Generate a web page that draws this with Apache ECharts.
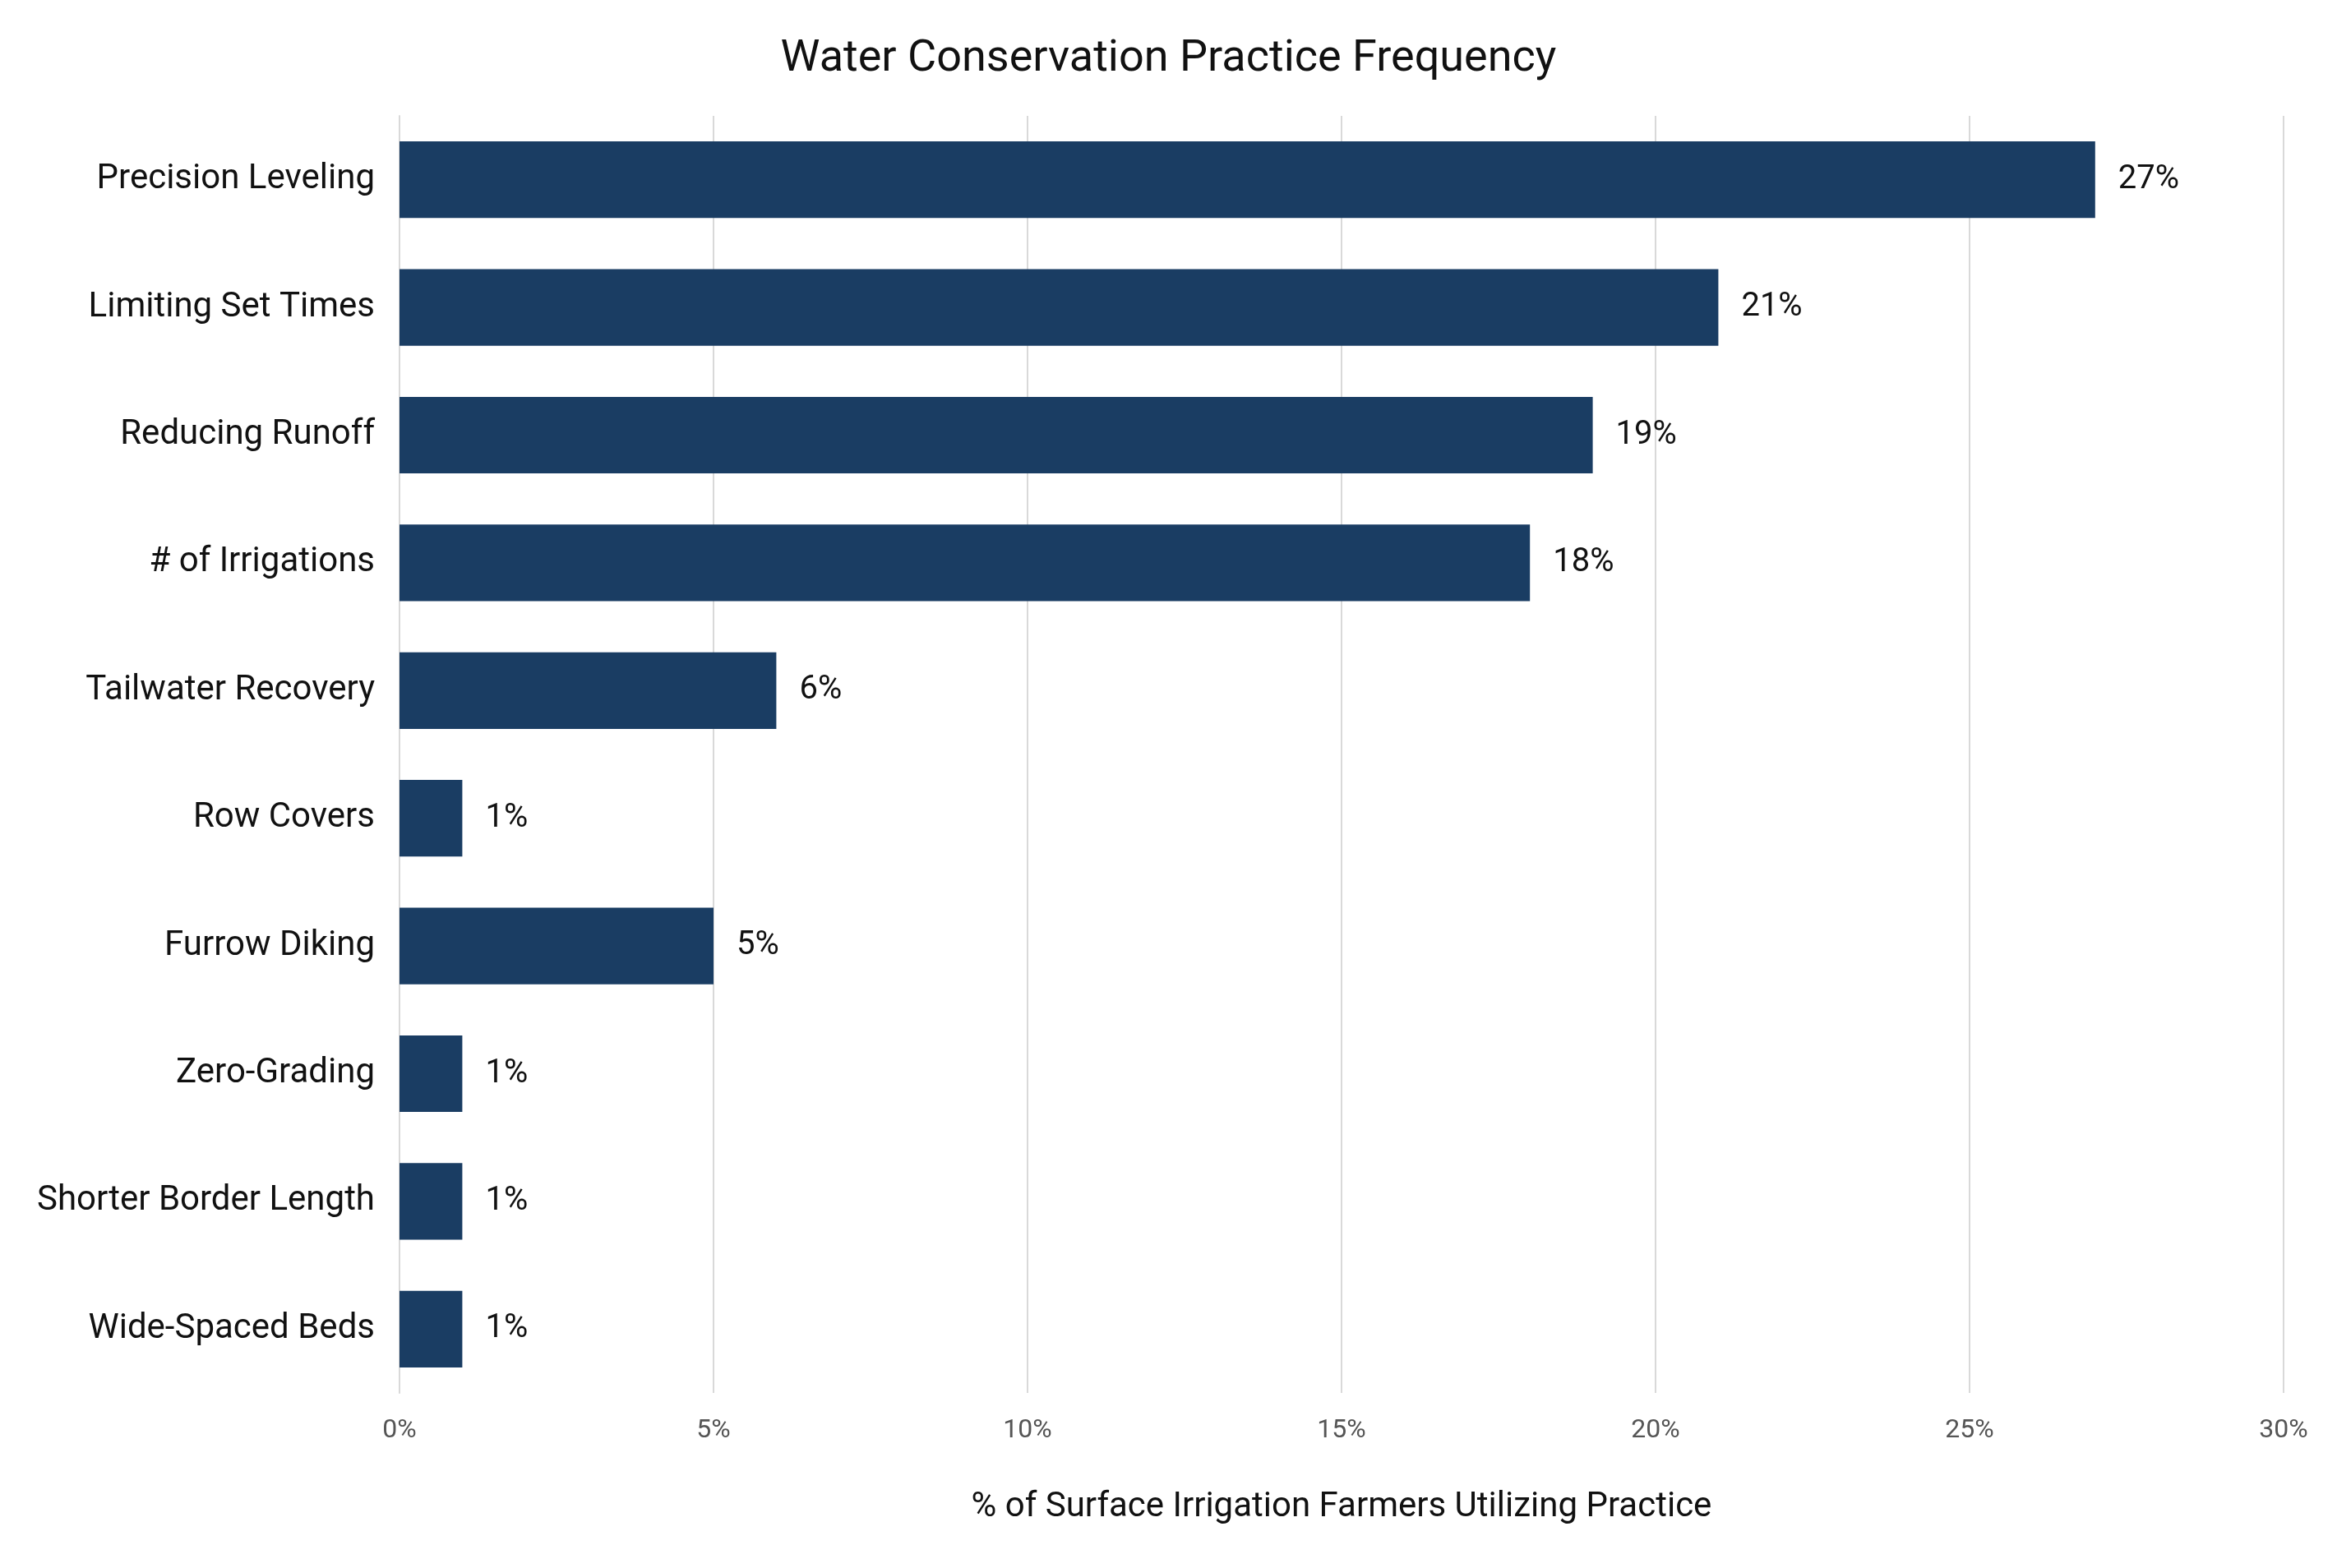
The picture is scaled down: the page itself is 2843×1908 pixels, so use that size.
<!DOCTYPE html>
<html lang="en">
<head>
    <meta charset="UTF-8" />
    <title>Water Conservation Practice Frequency</title>
    <script src="https://cdn.jsdelivr.net/npm/echarts@6/dist/echarts.min.js"></script>
    <style>
        html, body { margin: 0; padding: 0; background: #fff; }
        #chart { width: 2843px; height: 1908px; }
    </style>
</head>
<body>
    <div id="chart"></div>
    <script>
        // top to bottom as drawn
        const practices = ['Precision Leveling', 'Limiting Set Times', 'Reducing Runoff', '# of Irrigations',
            'Tailwater Recovery', 'Row Covers', 'Furrow Diking', 'Zero-Grading',
            'Shorter Border Length', 'Wide-Spaced Beds'];
        const shares = [27, 21, 19, 18, 6, 1, 5, 1, 1, 1];
        const xTicks = [0, 5, 10, 15, 20, 25, 30];

        const font = 'Roboto, "Noto Sans", sans-serif';
        const chart = echarts.init(document.getElementById('chart'));
        chart.setOption({
            animation: false,
            title: {
                text: 'Water Conservation Practice Frequency',
                left: 'center', top: 40,
                textStyle: { fontFamily: font, fontSize: 54, fontWeight: 'normal', color: '#111' }
            },
            grid: { left: 486, right: 65, top: 141, bottom: 213, containLabel: false },
            xAxis: {
                type: 'value', min: xTicks[0], max: xTicks[xTicks.length - 1], interval: 5,
                name: '% of Surface Irrigation Farmers Utilizing Practice',
                nameLocation: 'middle', nameGap: 118,
                nameTextStyle: { fontFamily: font, fontSize: 42, color: '#111' },
                axisLine: { show: false }, axisTick: { show: false },
                axisLabel: { formatter: '{value}%', fontFamily: font, fontSize: 32, color: '#555', margin: 30 },
                splitLine: { lineStyle: { color: '#d9d9d9', width: 2 } }
            },
            yAxis: {
                type: 'category', data: practices, inverse: true,
                axisLine: { show: true, lineStyle: { color: '#d9d9d9', width: 2 } },
                axisTick: { show: false },
                axisLabel: { fontFamily: font, fontSize: 42, color: '#111', margin: 30 }
            },
            series: [{
                type: 'bar', data: shares, barCategoryGap: '40%',
                itemStyle: { color: '#1a3d63' },
                label: {
                    show: true, position: 'right', distance: 28, formatter: '{c}%',
                    fontFamily: font, fontSize: 40, color: '#111'
                }
            }]
        });
    </script>
</body>
</html>
